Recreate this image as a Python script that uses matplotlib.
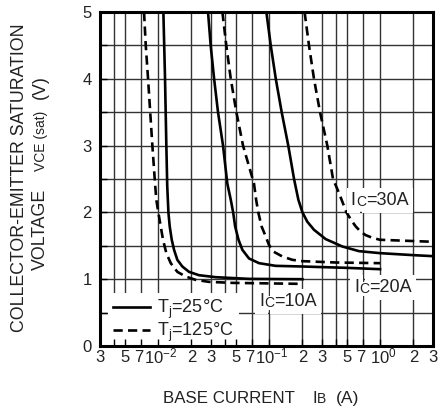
import numpy as np
import matplotlib
matplotlib.use("Agg")
import matplotlib.pyplot as plt
from matplotlib.ticker import FixedLocator, NullFormatter
from matplotlib.transforms import ScaledTranslation

plt.rcParams['font.family'] = ['Liberation Sans', 'DejaVu Sans']
plt.rcParams['mathtext.fontset'] = 'custom'
plt.rcParams['mathtext.rm'] = 'Liberation Sans'
plt.rcParams['text.color'] = '#222222'

# %% Datos (IB [A], VCE(sat) [V])
ib_10a_25 = [0.01117, 0.01156, 0.01188, 0.0121, 0.0124, 0.01274, 0.01329,
             0.01394, 0.01492, 0.01656, 0.01902, 0.02338, 0.0331, 0.066, 0.2]
v_10a_25 = [5.0, 4.0, 3.0, 2.4, 2.0, 1.79, 1.59, 1.44, 1.29, 1.19, 1.11, 1.06,
            1.03, 1.005, 1.0]

ib_10a_125 = [0.00748, 0.00775, 0.00813, 0.00889, 0.0094, 0.00965, 0.01006,
              0.01057, 0.01109, 0.01188, 0.01302, 0.01492, 0.01776, 0.0218,
              0.0288, 0.0467, 0.2]
v_10a_125 = [5.0, 4.5, 4.0, 3.0, 2.43, 2.19, 2.0, 1.79, 1.59, 1.39, 1.24, 1.11,
             1.04, 0.99, 0.96, 0.945, 0.93]

ib_20a_25 = [0.0282, 0.0298, 0.032, 0.0347, 0.0385, 0.0421, 0.0452, 0.0475,
             0.0495, 0.0531, 0.0575, 0.066, 0.0813, 0.1146, 0.2, 0.5, 1.0]
v_20a_25 = [5.0, 4.5, 4.0, 3.5, 3.0, 2.43, 2.19, 2.0, 1.79, 1.59, 1.44, 1.31,
            1.24, 1.20, 1.19, 1.17, 1.15]

ib_20a_125 = [0.038, 0.0412, 0.0452, 0.0508, 0.0583, 0.0732, 0.0765, 0.080,
              0.0857, 0.0933, 0.1, 0.1105, 0.1318, 0.162, 0.2, 0.4, 1.0]
v_20a_125 = [5.0, 4.5, 4.0, 3.5, 3.0, 2.43, 2.19, 2.0, 1.79, 1.64, 1.51, 1.41,
             1.34, 1.29, 1.27, 1.25, 1.24]

ib_30a_25 = [0.0946, 0.1036, 0.115, 0.13, 0.149, 0.168, 0.1837, 0.2, 0.2213,
             0.254, 0.324, 0.457, 0.646, 1.0, 2.0, 3.0]
v_30a_25 = [5.0, 4.5, 4.0, 3.5, 3.0, 2.5, 2.19, 2.0, 1.86, 1.74, 1.60, 1.49,
            1.42, 1.39, 1.36, 1.345]

ib_30a_125 = [0.209, 0.229, 0.254, 0.288, 0.335, 0.377, 0.427, 0.498, 0.563,
              0.604, 0.67, 0.742, 0.852, 1.0, 3.0]
v_30a_125 = [5.0, 4.5, 4.0, 3.5, 3.0, 2.5, 2.29, 2.0, 1.86, 1.79, 1.71, 1.66,
             1.62, 1.59, 1.56]

# Rejilla y marcas del eje
xgrid = [4e-3, 5e-3, 7e-3, 1e-2, 2e-2, 3e-2, 4e-2, 5e-2, 7e-2,
         0.1, 0.2, 0.3, 0.4, 0.5, 0.7, 1.0, 2.0]
ygrid = [0.5, 1.0, 1.5, 2.0, 2.5, 3.0, 3.5, 4.0, 4.5]

xticks = [3e-3, 5e-3, 7e-3, 1e-2, 2e-2, 3e-2, 5e-2, 7e-2,
          0.1, 0.2, 0.3, 0.5, 0.7, 1.0, 2.0, 3.0]
xticklabels = ['3', '5', '7', r'$\mathregular{10^{-2}}$', '2', '3', '5', '7',
               r'$\mathregular{10^{-1}}$', '2', '3', '5', '7',
               r'$\mathregular{10^{0}}$', '2', '3']
yticks = [0, 1, 2, 3, 4, 5]

# %% Figura
fig = plt.figure(figsize=(4.42, 4.08), dpi=100)
ax = fig.add_axes([100/442, 1 - 346/408, 333/442, 334/408])

ax.vlines(xgrid, 0, 5, color='#333333', lw=1.0, zorder=1)
ax.hlines(ygrid, 3e-3, 3, color='#333333', lw=1.0, zorder=1)

kw = dict(color='black', lw=1.9, zorder=3)
ax.plot(ib_10a_25, v_10a_25, '-', label=r'T$_\mathregular{j}$=25°C', **kw)
ax.plot(ib_10a_125, v_10a_125, '--', dashes=(3.5, 2),
        label=r'T$_\mathregular{j}$=125°C', **kw)
ax.plot(ib_20a_25, v_20a_25, '-', **kw)
ax.plot(ib_20a_125, v_20a_125, '--', dashes=(3.5, 2), **kw)
ax.plot(ib_30a_25, v_30a_25, '-', **kw)
ax.plot(ib_30a_125, v_30a_125, '--', dashes=(3.5, 2), **kw)

ax.set_xscale('log')
ax.set_xlim(3e-3, 3)
ax.set_ylim(0, 5)
ax.set_xticks(xticks)
ax.set_xticklabels(xticklabels)
ax.xaxis.set_minor_locator(FixedLocator(xgrid))
ax.xaxis.set_minor_formatter(NullFormatter())
ax.set_yticks(yticks)
ax.yaxis.set_minor_locator(FixedLocator(ygrid))
ax.tick_params(which='both', direction='in', length=5, width=1,
               top=False, right=False)
ax.tick_params(labelsize=12, labelcolor='#222222')
ax.tick_params(axis='x', pad=3)
ax.tick_params(axis='y', pad=6)
for s in ax.spines.values():
    s.set_linewidth(2.2)

# pequeños corrimientos de las etiquetas apretadas (en píxeles)
for lab in ax.get_xticklabels():
    txt = lab.get_text()
    if txt == '7':
        dx, dy = -2, 0
    elif '10^' in txt:
        dx, dy = 3, 4
    else:
        continue
    lab.set_transform(lab.get_transform()
                      + ScaledTranslation(dx/100, dy/100, fig.dpi_scale_trans))

leg = ax.legend(loc='lower left', bbox_to_anchor=(0.024, -0.01), fontsize=13,
                frameon=True, fancybox=False, handlelength=2.05,
                handletextpad=0.39, labelspacing=0.0, borderpad=0.28,
                borderaxespad=0.0)
leg.get_frame().set_edgecolor('none')
leg.get_frame().set_facecolor('white')
leg.get_frame().set_alpha(1)
leg.set_zorder(1.2)


# %% Etiquetas Ic con la "C" más pequeña
def ic_label(x, y, rest):
    t1 = ax.text(x, y, 'I', fontsize=13, va='baseline', ha='left', zorder=5,
                 bbox=dict(fc='white', ec='none', pad=3))
    t2 = ax.annotate('C', xy=(1, 0), xycoords=t1, fontsize=10, va='bottom',
                     ha='left', zorder=6,
                     bbox=dict(fc='white', ec='none', pad=0))
    ax.annotate(rest, xy=(1, 0), xycoords=t2, fontsize=13, va='bottom',
                ha='left', zorder=5, bbox=dict(fc='white', ec='none', pad=3))


ic_label(0.0813, 0.60, '=10A')
ic_label(0.583, 0.81, '=20A')
ic_label(0.545, 2.11, '=30A')

# %% Títulos de ejes
fig.text(163/442, 1 - 403/408, 'BASE CURRENT', fontsize=12.2,
         va='baseline', ha='left')
xi = fig.text(312/442, 1 - 403/408, 'I', fontsize=12.2, va='baseline',
              ha='left')
xb = ax.annotate('B', xy=(1, 0), xycoords=xi, fontsize=10, va='bottom',
                 ha='left', annotation_clip=False)
ax.annotate('(A)', xy=(1, 0), xycoords=xb, xytext=(7, 0),
            textcoords='offset points', fontsize=12.6, va='bottom',
            ha='left', annotation_clip=False)

fig.text(20/442, 1 - 178/408, 'COLLECTOR-EMITTER SATURATION', rotation=90,
         fontsize=12.8, ha='center', va='center')
v1 = fig.text(48.5/442, 1 - 270/408, 'VOLTAGE', rotation=90, fontsize=12.8,
              ha='right', va='bottom')
v2 = ax.annotate('VCE (sat)', xy=(1, 1), xycoords=v1, xytext=(0, 13),
                 textcoords='offset points', rotation=90, fontsize=10,
                 ha='right', va='bottom', annotation_clip=False)
ax.annotate('(V)', xy=(1, 1), xycoords=v2, xytext=(0, 8),
            textcoords='offset points', rotation=90, fontsize=12.8,
            ha='right', va='bottom', annotation_clip=False)

fig.savefig('out.png', dpi=100)
